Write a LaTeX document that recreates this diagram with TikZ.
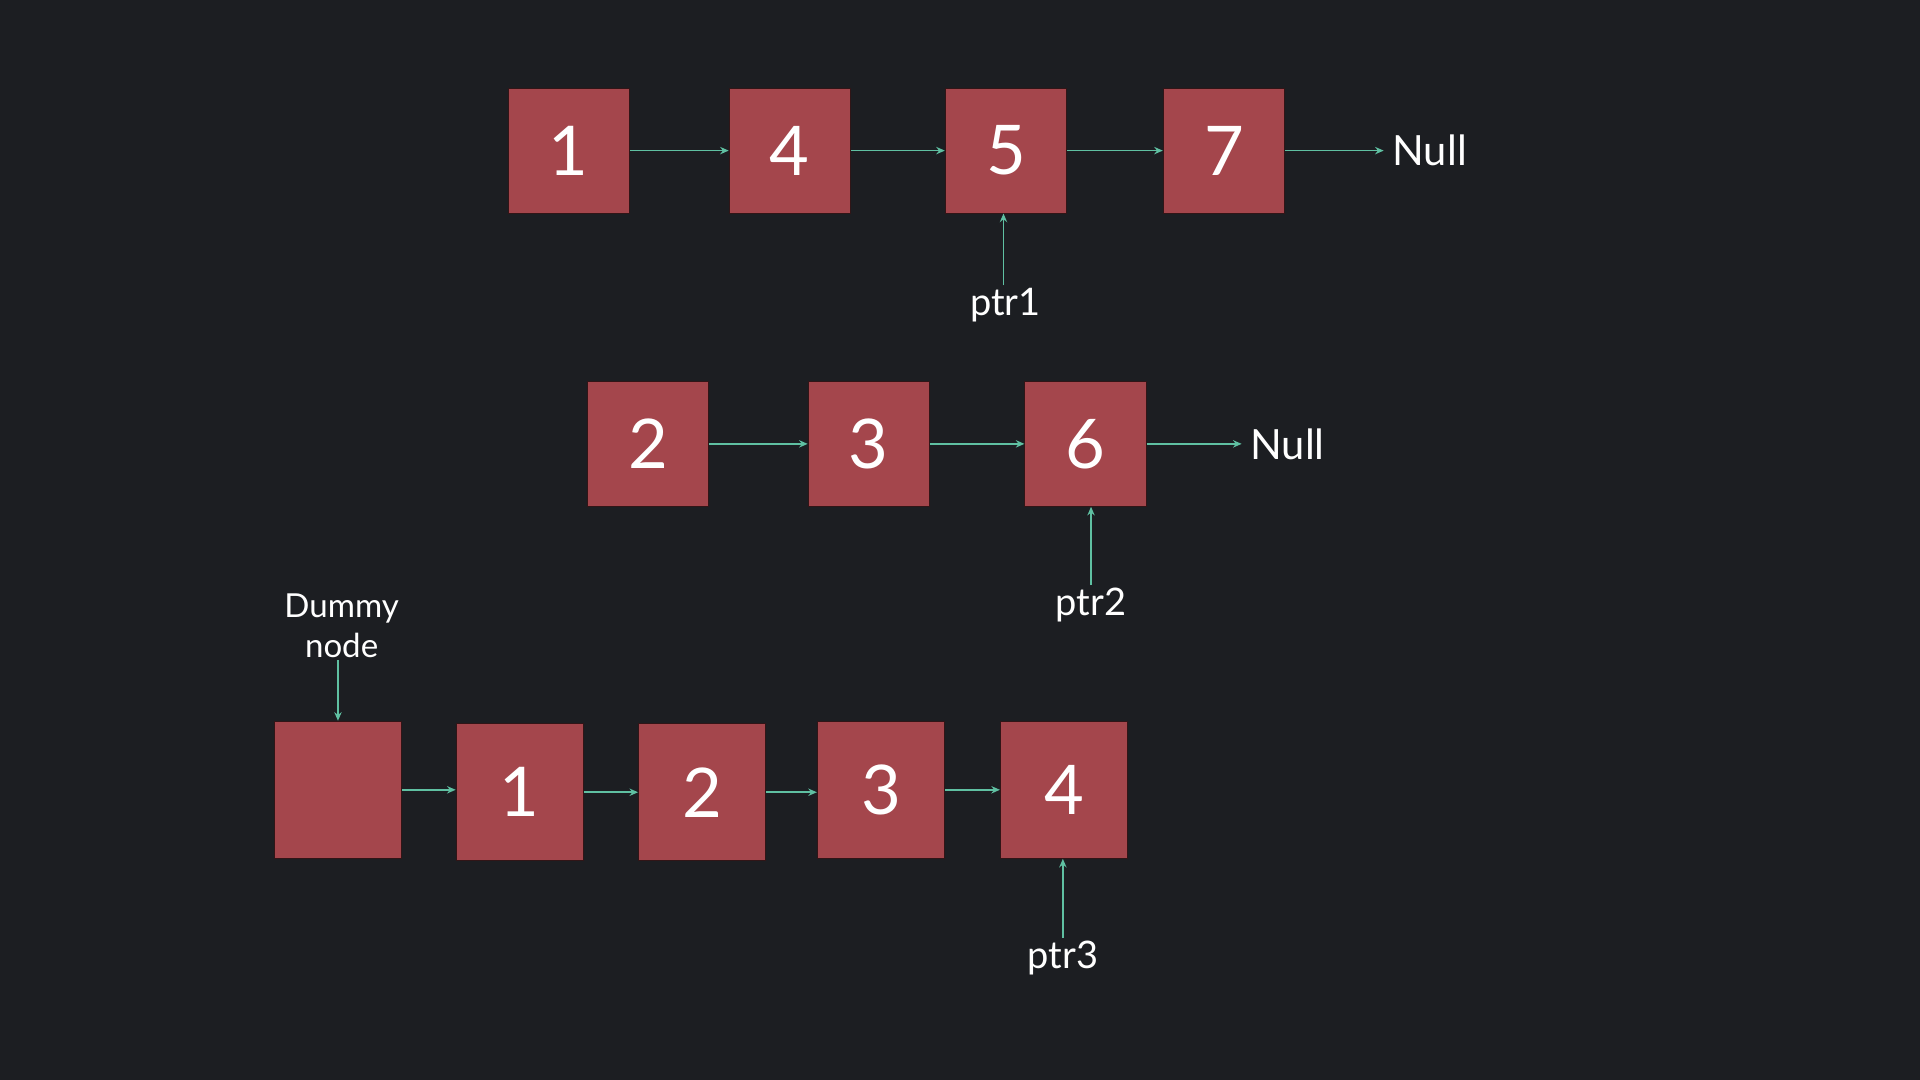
\documentclass[tikz,border=0pt]{standalone}
\usepackage{fontspec}
\setmainfont{Lato}
\usetikzlibrary{arrows.meta}
\definecolor{bg}{HTML}{1C1E22}
\definecolor{boxred}{HTML}{A4464C}
\definecolor{teal}{HTML}{5FC0A2}
\tikzset{
  llbox/.style={fill=boxred, draw=black!70!boxred, line width=0.8pt, inner sep=0pt, text=white,
    font=\fontsize{56}{60}\selectfont, minimum width=99pt, minimum height=102pt},
  bigbox/.style={llbox, minimum width=104pt, minimum height=112pt},
  arr/.style={draw=teal, line width=1.3pt, -{Stealth[length=7pt,width=6pt]}},
  nulltxt/.style={text=white, font=\fontsize{34}{38}\selectfont, inner sep=7pt, anchor=west},
  ptrtxt/.style={text=white, font=\fontsize{31}{34}\selectfont, inner sep=2pt},
  lbl/.style={text=white, font=\fontsize{27}{32}\selectfont, align=center, inner sep=2pt}
}
\begin{document}
\begin{tikzpicture}[x=1pt,y=-1pt]
\fill[bg] (0,0) rectangle (1568,882);
\useasboundingbox (0,0) rectangle (1568,882);
% Row 1
\node[llbox] (a1) at (464.5,123) {1};
\node[llbox] (a4) at (645,123) {4};
\node[llbox] (a5) at (821.5,123) {5};
\node[llbox] (a7) at (999.5,123) {7};
\node[nulltxt] (n1) at (1130,123) {Null};
\node[ptrtxt] (p1) at (821,249) {ptr1};
\draw[arr] (a1.east) -- (a4.west);
\draw[arr] (a4.east) -- (a5.west);
\draw[arr] (a5.east) -- (a7.west);
\draw[arr] (a7.east) -- (n1.west);
\draw[arr] (p1.north -| a5.south) ++(-2,0) coordinate (p1t) -- (p1t |- a5.south);
% Row 2
\node[llbox] (b2) at (529.5,362.5) {2};
\node[llbox] (b3) at (709.5,362.5) {3};
\node[llbox] (b6) at (886.5,362.5) {6};
\node[nulltxt] (n2) at (1014,363) {Null};
\node[ptrtxt] (p2) at (891,494) {ptr2};
\draw[arr] (b2.east) -- (b3.west);
\draw[arr] (b3.east) -- (b6.west);
\draw[arr] (b6.east) -- (b6.east -| n2.west);
\draw[arr] (p2.north) -- (p2.north |- b6.south);
% Row 3
\node[bigbox] (d0) at (276,645) {};
\node[bigbox] (c1) at (424.5,647) {1};
\node[bigbox] (c2) at (573.5,647) {2};
\node[bigbox] (c3) at (719.5,645) {3};
\node[bigbox] (c4) at (869,645) {4};
\node[lbl] (dl) at (279,511) {Dummy\\node};
\node[ptrtxt] (p3) at (868,782) {ptr3};
\draw[arr] (d0.east) -- (d0.east -| c1.west);
\draw[arr] (c1.east) -- (c1.east -| c2.west);
\draw[arr] (c2.east) -- (c2.east -| c3.west);
\draw[arr] (c3.east) -- (c4.west);
\draw[arr] (dl.south -| d0.north) -- (d0.north);
\draw[arr] (p3.north) -- (p3.north |- c4.south);
\end{tikzpicture}
\end{document}
